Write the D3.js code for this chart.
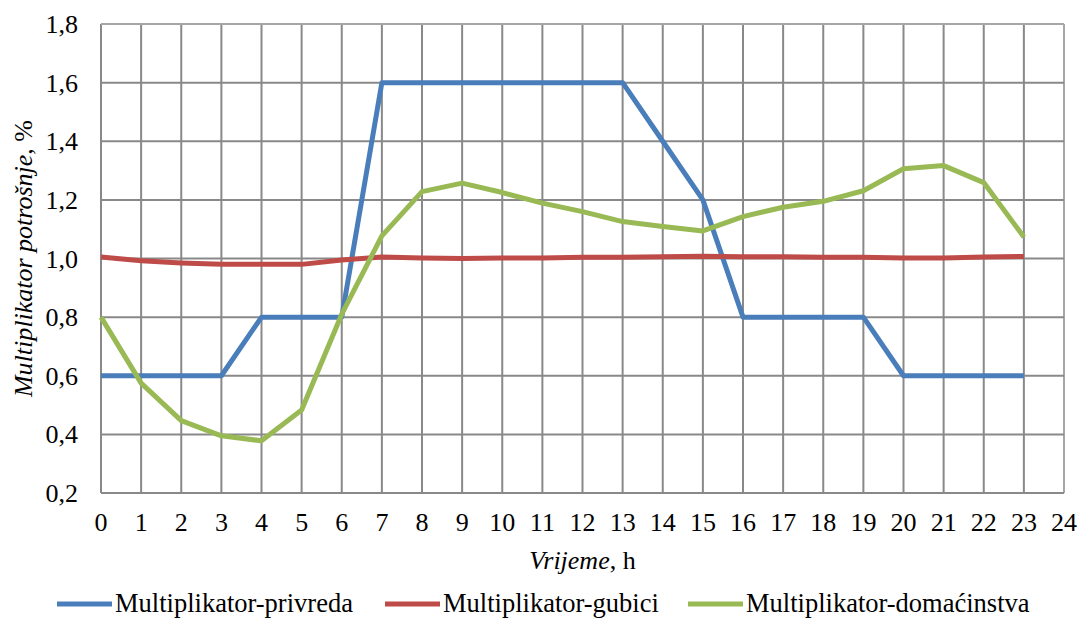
<!DOCTYPE html>
<html><head><meta charset="utf-8">
<script src="https://cdn.jsdelivr.net/npm/d3@7"></script>
<style>
body{margin:0;background:#fff}
svg{display:block}
svg text{font-family:"Times New Roman","Liberation Serif",Tinos,serif;fill:#000}
</style>
</head><body>
<svg id="c" width="1079" height="644"></svg>
<script>
const hours = d3.range(0,24);
const xTicks = d3.range(0,25);
const yTicks = [0.2,0.4,0.6,0.8,1.0,1.2,1.4,1.6,1.8];
const privreda = [0.6,0.6,0.6,0.6,0.8,0.8,0.8,1.6,1.6,1.6,1.6,1.6,1.6,1.6,1.4,1.2,0.8,0.8,0.8,0.8,0.6,0.6,0.6,0.6];
const gubici = [1.005,0.992,0.985,0.98,0.98,0.98,0.995,1.005,1.002,1.0,1.002,1.002,1.004,1.004,1.006,1.008,1.006,1.006,1.004,1.004,1.002,1.002,1.005,1.007];
const domacinstva = [0.8,0.575,0.447,0.395,0.378,0.483,0.81,1.077,1.228,1.257,1.225,1.189,1.16,1.126,1.109,1.094,1.143,1.175,1.195,1.231,1.306,1.317,1.259,1.073];
const seriesNames = ["Multiplikator-privreda","Multiplikator-gubici","Multiplikator-domaćinstva"];
const colors = ["#4A7EBB","#BE4B48","#98B954"];
const series = [privreda, gubici, domacinstva];

const svg = d3.select("#c");
const L=101,R=1064,T=24,B=493;
const x = d3.scaleLinear().domain([0,24]).range([L,R]);
const y = d3.scaleLinear().domain([0.2,1.8]).range([B,T]);

svg.append("g").selectAll("line").data(xTicks).join("line")
  .attr("x1",d=>x(d)).attr("x2",d=>x(d)).attr("y1",T).attr("y2",B)
  .attr("stroke",d=>d===24?"#a6a6a6":"#898989").attr("stroke-width",2);
svg.append("g").selectAll("line").data(yTicks).join("line")
  .attr("x1",L).attr("x2",R).attr("y1",d=>y(d)).attr("y2",d=>y(d))
  .attr("stroke",d=>d===1.8?"#a6a6a6":"#898989").attr("stroke-width",2);

const FS = 26;
const fmt = d=>d3.format(".1f")(d).replace(".",",");
svg.append("g").selectAll("text").data(yTicks).join("text")
  .attr("x",78).attr("y",d=>y(d)+9).attr("text-anchor","end")
  .attr("font-size",FS).text(fmt);
svg.append("g").selectAll("text").data(xTicks).join("text")
  .attr("x",d=>x(d)).attr("y",531).attr("text-anchor","middle")
  .attr("font-size",FS).text(d=>d);

const xt = svg.append("text").attr("x",x(12)).attr("y",569).attr("text-anchor","middle").attr("font-size",FS);
xt.append("tspan").attr("font-style","italic").text("Vrijeme");
xt.append("tspan").text(", h");
const yt = svg.append("text").attr("transform",`translate(32,${(T+B)/2}) rotate(-90)`).attr("text-anchor","middle").attr("font-size",FS);
yt.append("tspan").attr("font-style","italic").text("Multiplikator potrošnje");
yt.append("tspan").text(", %");

const line = d3.line().x((d,i)=>x(hours[i])).y(d=>y(d));
series.forEach((s,k)=>{
  svg.append("path").datum(s).attr("d",line).attr("fill","none")
    .attr("stroke",colors[k]).attr("stroke-width",5).attr("stroke-linejoin","round");
});

const legX = [57,385,688];
seriesNames.forEach((n,k)=>{
  const g = svg.append("g");
  g.append("line").attr("x1",legX[k]).attr("x2",legX[k]+55).attr("y1",604).attr("y2",604)
    .attr("stroke",colors[k]).attr("stroke-width",5);
  g.append("text").attr("x",legX[k]+58).attr("y",612).attr("font-size",26.5).text(n);
});
</script>
</body></html>
